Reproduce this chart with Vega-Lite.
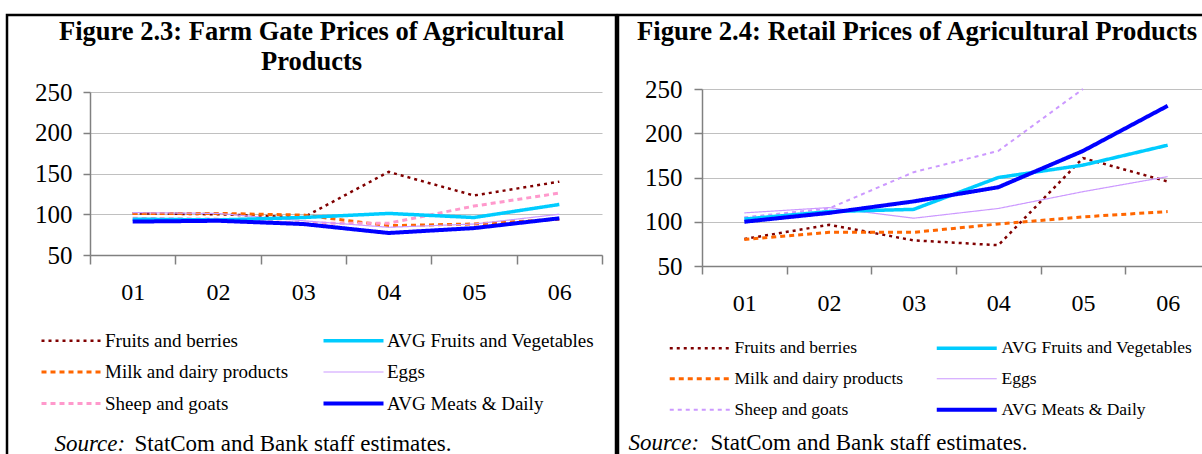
{
  "$schema": "https://vega.github.io/schema/vega-lite/v6.json",
  "padding": {"left": 5, "top": 13, "right": 0, "bottom": 0},
  "background": "white",
  "spacing": -2.5,
  "config": {
    "font": "Liberation Serif",
    "view": {"stroke": "black", "strokeWidth": 2.5},
    "axis": {
      "domainColor": "#808080", "domainWidth": 1.5,
      "tickColor": "#808080", "tickWidth": 1.5,
      "gridColor": "#c0c0c0", "gridWidth": 1,
      "labelColor": "black", "labelFont": "Liberation Serif",
      "titleColor": "black", "titleFont": "Liberation Serif"
    },
    "legend": {"labelFont": "Liberation Serif", "labelColor": "black"}
  },
  "datasets": {
    "farm": [
      {"series": "Fruits and berries", "year": "01", "value": 101},
      {"series": "Fruits and berries", "year": "02", "value": 100},
      {"series": "Fruits and berries", "year": "03", "value": 96},
      {"series": "Fruits and berries", "year": "04", "value": 152},
      {"series": "Fruits and berries", "year": "05", "value": 123},
      {"series": "Fruits and berries", "year": "06", "value": 140},
      {"series": "Milk and dairy products", "year": "01", "value": 101},
      {"series": "Milk and dairy products", "year": "02", "value": 101},
      {"series": "Milk and dairy products", "year": "03", "value": 99},
      {"series": "Milk and dairy products", "year": "04", "value": 86},
      {"series": "Milk and dairy products", "year": "05", "value": 88},
      {"series": "Milk and dairy products", "year": "06", "value": 94},
      {"series": "Sheep and goats", "year": "01", "value": 95},
      {"series": "Sheep and goats", "year": "02", "value": 94},
      {"series": "Sheep and goats", "year": "03", "value": 89},
      {"series": "Sheep and goats", "year": "04", "value": 89},
      {"series": "Sheep and goats", "year": "05", "value": 110},
      {"series": "Sheep and goats", "year": "06", "value": 126},
      {"series": "Eggs", "year": "01", "value": 102},
      {"series": "Eggs", "year": "02", "value": 101},
      {"series": "Eggs", "year": "03", "value": 92},
      {"series": "Eggs", "year": "04", "value": 84},
      {"series": "Eggs", "year": "05", "value": 88},
      {"series": "Eggs", "year": "06", "value": 100},
      {"series": "AVG Fruits and Vegetables", "year": "01", "value": 94},
      {"series": "AVG Fruits and Vegetables", "year": "02", "value": 93},
      {"series": "AVG Fruits and Vegetables", "year": "03", "value": 96},
      {"series": "AVG Fruits and Vegetables", "year": "04", "value": 101},
      {"series": "AVG Fruits and Vegetables", "year": "05", "value": 96},
      {"series": "AVG Fruits and Vegetables", "year": "06", "value": 112},
      {"series": "AVG Meats & Daily", "year": "01", "value": 91},
      {"series": "AVG Meats & Daily", "year": "02", "value": 92},
      {"series": "AVG Meats & Daily", "year": "03", "value": 88},
      {"series": "AVG Meats & Daily", "year": "04", "value": 77},
      {"series": "AVG Meats & Daily", "year": "05", "value": 83},
      {"series": "AVG Meats & Daily", "year": "06", "value": 95}
    ],
    "retail": [
      {"series": "Fruits and berries", "year": "01", "value": 80.5},
      {"series": "Fruits and berries", "year": "02", "value": 96.5},
      {"series": "Fruits and berries", "year": "03", "value": 79},
      {"series": "Fruits and berries", "year": "04", "value": 73.5},
      {"series": "Fruits and berries", "year": "05", "value": 172},
      {"series": "Fruits and berries", "year": "06", "value": 145.5},
      {"series": "Milk and dairy products", "year": "01", "value": 80},
      {"series": "Milk and dairy products", "year": "02", "value": 88},
      {"series": "Milk and dairy products", "year": "03", "value": 88},
      {"series": "Milk and dairy products", "year": "04", "value": 97.5},
      {"series": "Milk and dairy products", "year": "05", "value": 105.5},
      {"series": "Milk and dairy products", "year": "06", "value": 111.5},
      {"series": "Sheep and goats", "year": "01", "value": 105},
      {"series": "Sheep and goats", "year": "02", "value": 115},
      {"series": "Sheep and goats", "year": "03", "value": 156},
      {"series": "Sheep and goats", "year": "04", "value": 180},
      {"series": "Sheep and goats", "year": "05", "value": 250},
      {"series": "Eggs", "year": "01", "value": 110},
      {"series": "Eggs", "year": "02", "value": 116},
      {"series": "Eggs", "year": "03", "value": 104},
      {"series": "Eggs", "year": "04", "value": 115},
      {"series": "Eggs", "year": "05", "value": 134},
      {"series": "Eggs", "year": "06", "value": 151},
      {"series": "AVG Fruits and Vegetables", "year": "01", "value": 103},
      {"series": "AVG Fruits and Vegetables", "year": "02", "value": 111.5},
      {"series": "AVG Fruits and Vegetables", "year": "03", "value": 114},
      {"series": "AVG Fruits and Vegetables", "year": "04", "value": 150},
      {"series": "AVG Fruits and Vegetables", "year": "05", "value": 164},
      {"series": "AVG Fruits and Vegetables", "year": "06", "value": 186.5},
      {"series": "AVG Meats & Daily", "year": "01", "value": 100},
      {"series": "AVG Meats & Daily", "year": "02", "value": 110},
      {"series": "AVG Meats & Daily", "year": "03", "value": 123},
      {"series": "AVG Meats & Daily", "year": "04", "value": 139},
      {"series": "AVG Meats & Daily", "year": "05", "value": 180},
      {"series": "AVG Meats & Daily", "year": "06", "value": 231}
    ]
  },
  "hconcat": [
    {
      "width": 609,
      "height": 441,
      "data": {"name": "farm"},
      "title": {
        "text": ["Figure 2.3: Farm Gate Prices of Agricultural", "Products"],
        "orient": "top", "anchor": "middle", "frame": "group", "offset": -60.5,
        "fontSize": 26.5, "fontWeight": "bold", "font": "Liberation Serif",
        "lineHeight": 30, "color": "black"
      },
      "mark": {"type": "line", "strokeCap": "butt"},
      "encoding": {
        "x": {
          "field": "year", "type": "ordinal", "bandPosition": 0.5,
          "scale": {"type": "band", "paddingInner": 0, "paddingOuter": 0, "range": [83, 595]},
          "axis": {
            "orient": "bottom", "offset": -201, "tickBand": "extent", "grid": false,
            "labelAngle": 0, "labelFontSize": 24, "labelPadding": 28, "labelBaseline": "middle",
            "tickSize": 9,
            "title": "StatCom and Bank staff estimates.",
            "titleX": 127, "titleY": 195, "titleAlign": "left", "titleAnchor": "start",
            "titleBaseline": "alphabetic", "titleFontSize": 23, "titleFontWeight": "normal"
          }
        },
        "y": {
          "field": "value", "type": "quantitative",
          "scale": {"domain": [50, 250], "range": [240, 77], "nice": false, "zero": false},
          "axis": {
            "orient": "left", "offset": -83, "values": [50, 100, 150, 200, 250], "grid": true,
            "tickSize": 7, "labelPadding": 11, "labelFontSize": 25,
            "title": "Source:", "titleAngle": 0, "titleX": -36, "titleY": 435,
            "titleAlign": "left", "titleBaseline": "alphabetic",
            "titleFontStyle": "italic", "titleFontWeight": "normal", "titleFontSize": 23
          }
        },
        "color": {
          "field": "series", "type": "nominal",
          "scale": {
            "domain": ["Fruits and berries", "Milk and dairy products", "Sheep and goats", "AVG Fruits and Vegetables", "Eggs", "AVG Meats & Daily"],
            "range": ["#800000", "#FF6600", "#FF99CC", "#00CCFF", "#CC99FF", "#0000FF"]
          },
          "legend": {
            "orient": "none", "legendX": 55, "legendY": 316, "columns": 2,
            "columnPadding": 26, "rowPadding": 11.5, "symbolType": "M-6,0H6", "symbolSize": 100,
            "labelOffset": 24, "labelFontSize": 19, "labelLimit": 400, "title": null, "padding": 0
          }
        },
        "strokeDash": {
          "field": "series", "type": "nominal",
          "scale": {
            "domain": ["Fruits and berries", "Milk and dairy products", "Sheep and goats", "AVG Fruits and Vegetables", "Eggs", "AVG Meats & Daily"],
            "range": [[3, 4], [5, 4], [5, 4], [1, 0], [1, 0], [1, 0]]
          }
        },
        "strokeWidth": {
          "field": "series", "type": "nominal",
          "scale": {
            "type": "ordinal",
            "domain": ["Fruits and berries", "Milk and dairy products", "Sheep and goats", "AVG Fruits and Vegetables", "Eggs", "AVG Meats & Daily"],
            "range": [2.5, 3, 3, 3.5, 1.2, 4]
          }
        }
      }
    },
    {
      "width": 592,
      "height": 441,
      "data": {"name": "retail"},
      "title": {
        "text": "Figure 2.4: Retail Prices of Agricultural Products",
        "orient": "top", "anchor": "middle", "frame": "group", "offset": -31, "dx": 3,
        "fontSize": 26.7, "fontWeight": "bold", "font": "Liberation Serif", "color": "black"
      },
      "mark": {"type": "line", "strokeCap": "butt"},
      "encoding": {
        "x": {
          "field": "year", "type": "ordinal", "bandPosition": 0.5,
          "scale": {"type": "band", "paddingInner": 0, "paddingOuter": 0, "range": [84, 592]},
          "axis": {
            "orient": "bottom", "offset": -190, "tickBand": "extent", "grid": false,
            "labelAngle": 0, "labelFontSize": 24, "labelPadding": 29, "labelBaseline": "middle",
            "tickSize": 8,
            "title": "StatCom and Bank staff estimates.",
            "titleX": 92, "titleY": 183.5, "titleAlign": "left", "titleAnchor": "start",
            "titleBaseline": "alphabetic", "titleFontSize": 23, "titleFontWeight": "normal"
          }
        },
        "y": {
          "field": "value", "type": "quantitative",
          "scale": {"domain": [50, 250], "range": [251, 74], "nice": false, "zero": false},
          "axis": {
            "orient": "left", "offset": -84, "values": [50, 100, 150, 200, 250], "grid": true,
            "tickSize": 8, "labelPadding": 12, "labelFontSize": 25,
            "title": "Source:", "titleAngle": 0, "titleX": -74, "titleY": 434.5,
            "titleAlign": "left", "titleBaseline": "alphabetic",
            "titleFontStyle": "italic", "titleFontWeight": "normal", "titleFontSize": 23
          }
        },
        "color": {
          "field": "series", "type": "nominal",
          "scale": {
            "domain": ["Fruits and berries", "Milk and dairy products", "Sheep and goats", "AVG Fruits and Vegetables", "Eggs", "AVG Meats & Daily"],
            "range": ["#800000", "#FF6600", "#CC99FF", "#00CCFF", "#CC99FF", "#0000FF"]
          },
          "legend": {
            "orient": "none", "legendX": 73, "legendY": 324, "columns": 2,
            "columnPadding": 24, "rowPadding": 12, "symbolType": "M-6,0H6", "symbolSize": 100,
            "labelOffset": 26, "labelFontSize": 17.5, "labelLimit": 400, "title": null, "padding": 0
          }
        },
        "strokeDash": {
          "field": "series", "type": "nominal",
          "scale": {
            "domain": ["Fruits and berries", "Milk and dairy products", "Sheep and goats", "AVG Fruits and Vegetables", "Eggs", "AVG Meats & Daily"],
            "range": [[3, 4], [5, 4], [4, 4], [1, 0], [1, 0], [1, 0]]
          }
        },
        "strokeWidth": {
          "field": "series", "type": "nominal",
          "scale": {
            "type": "ordinal",
            "domain": ["Fruits and berries", "Milk and dairy products", "Sheep and goats", "AVG Fruits and Vegetables", "Eggs", "AVG Meats & Daily"],
            "range": [2.5, 3, 2, 3.5, 1.2, 4]
          }
        }
      }
    }
  ],
  "resolve": {
    "scale": {"x": "independent", "y": "independent", "color": "independent", "strokeDash": "independent", "strokeWidth": "independent"},
    "legend": {"color": "independent", "strokeDash": "independent", "strokeWidth": "independent"}
  }
}
